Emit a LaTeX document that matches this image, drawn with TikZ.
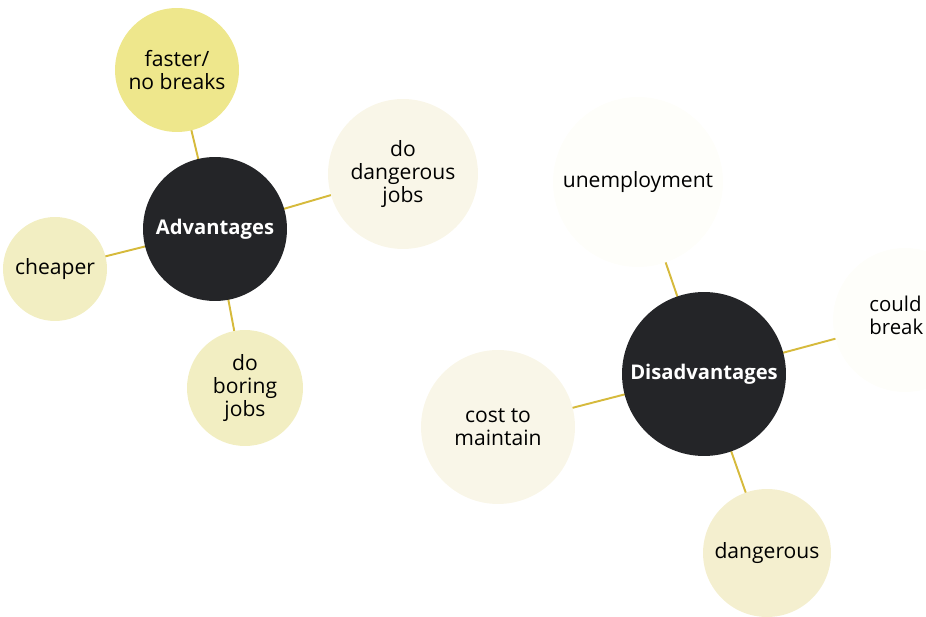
\documentclass[tikz,border=0pt]{standalone}
\usepackage{fontspec}
\setmainfont{Open Sans}
\usetikzlibrary{backgrounds}
\definecolor{hubdark}{HTML}{242528}
\definecolor{spoke}{HTML}{D6BA3C}
\definecolor{ylwA}{HTML}{EEE78C}
\definecolor{ylwB}{HTML}{F2EEC2}
\definecolor{ylwC}{HTML}{F4EFCF}
\definecolor{creamA}{HTML}{F9F6E8}
\definecolor{creamB}{HTML}{FEFEFA}

\begin{document}
\begin{tikzpicture}[
  x=0.02cm, y=-0.02cm,
  font=\fontsize{12}{13.2}\selectfont,
  hub/.style={circle, fill=hubdark, text=white, font=\fontsize{11.5}{13}\selectfont\bfseries,
              align=center, inner sep=0pt},
  leaf/.style={circle, align=center, inner sep=0pt, text=black},
  link/.style={draw=spoke, line width=1.1pt},
]
\useasboundingbox (0,0) rectangle (926,617);
\clip (0,0) rectangle (926,617);

% ---- advantages cluster ----
\node[hub] (adv) at (215,229) [minimum size=2.88cm] {Advantages};
\node[leaf, fill=ylwA]   (fast)  at (177,70)  [minimum size=2.48cm] {faster/\\no breaks};
\node[leaf, fill=ylwB]   (cheap) at (55,269)  [minimum size=2.08cm] {cheaper};
\node[leaf, fill=creamA] (risky) at (403,174) [minimum size=3.0cm]  {do\\dangerous\\jobs};
\node[leaf, fill=ylwB]   (dull)  at (245,388) [minimum size=2.32cm] {do\\boring\\jobs};

% ---- disadvantages cluster ----
\node[hub] (dis) at (704,374) [minimum size=3.28cm] {Disadvantages};
\node[leaf, fill=creamB] (jobs)  at (638,182) [minimum size=3.4cm]  {unemployment};
\node[leaf, fill=creamB] (brk)   at (905,320) [minimum size=2.88cm] {};
\node[anchor=west, align=left, inner sep=0pt, font=\fontsize{11.6}{13.2}\selectfont]
      (brktxt) at (869,315) {could\\break};
\node[leaf, fill=creamA] (cost)  at (498,427) [minimum size=3.08cm] {cost to\\maintain};
\node[leaf, fill=ylwC]   (hurt)  at (767,553) [minimum size=2.56cm] {dangerous};

% ---- spokes ----
\begin{scope}[on background layer]
  \draw[link] (adv.center) -- (fast.center);
  \draw[link] (adv.center) -- (cheap.center);
  \draw[link] (adv.center) -- (risky.center);
  \draw[link] (adv.center) -- (dull.center);
  \draw[link] (dis.center) -- (jobs.center);
  \draw[link] (dis.center) -- (brk.center);
  \draw[link] (dis.center) -- (cost.center);
  \draw[link] (dis.center) -- (hurt.center);
\end{scope}
\end{tikzpicture}
\end{document}
